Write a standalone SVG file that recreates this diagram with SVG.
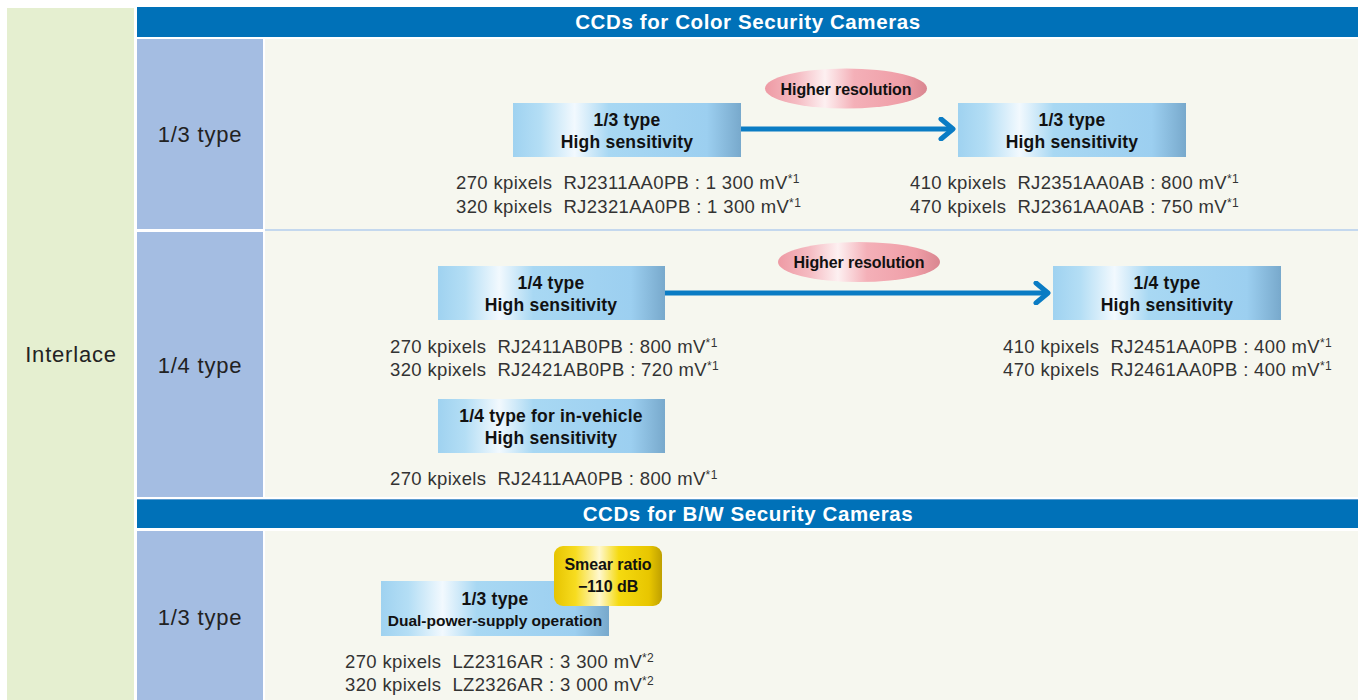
<svg xmlns="http://www.w3.org/2000/svg" width="1358" height="700" viewBox="0 0 1358 700">
<defs>
<linearGradient id="gBox" x1="0" y1="0" x2="1" y2="0">
<stop offset="0" stop-color="#9fd2f0"/>
<stop offset="0.12" stop-color="#b4def5"/>
<stop offset="0.27" stop-color="#f2f9fe"/>
<stop offset="0.42" stop-color="#a8d8f3"/>
<stop offset="0.85" stop-color="#9ccff0"/>
<stop offset="1" stop-color="#78a9cc"/>
</linearGradient>
<linearGradient id="gPink" x1="0" y1="0" x2="1" y2="0">
<stop offset="0" stop-color="#ee9aa4"/>
<stop offset="0.2" stop-color="#f5bcc3"/>
<stop offset="0.37" stop-color="#fdf0f1"/>
<stop offset="0.55" stop-color="#f4b0b8"/>
<stop offset="0.85" stop-color="#ef9ea7"/>
<stop offset="1" stop-color="#d98690"/>
</linearGradient>
<linearGradient id="gGold" x1="0" y1="0" x2="1" y2="0">
<stop offset="0" stop-color="#e6c400"/>
<stop offset="0.2" stop-color="#f7dc20"/>
<stop offset="0.42" stop-color="#fff8d0"/>
<stop offset="0.6" stop-color="#f5da10"/>
<stop offset="0.88" stop-color="#e8c600"/>
<stop offset="1" stop-color="#bfa000"/>
</linearGradient>
<marker id="chev" viewBox="0 0 20 24" refX="17" refY="12" markerWidth="20" markerHeight="24" markerUnits="userSpaceOnUse" orient="auto">
<path d="M5 2 L17 12 L5 22" fill="none" stroke="#0a7cc4" stroke-width="5" stroke-linecap="round" stroke-linejoin="round"/>
</marker>
</defs>
<style>
.bg{fill:#ffffff}
.interlace{fill:#e5efd0}
.hdr{fill:#0071b8}
.typecell{fill:#a4bde2}
.content{fill:#f6f7ef}
.hdrtxt{font-family:"Liberation Sans",Arial,sans-serif;font-weight:bold;font-size:20.5px;letter-spacing:0.6px;fill:#ffffff;text-anchor:middle}
.lbl{font-family:"Liberation Sans",Arial,sans-serif;font-size:22px;letter-spacing:0.8px;fill:#222222;text-anchor:middle}
.box{fill:url(#gBox)}
.btxt{font-family:"Liberation Sans",Arial,sans-serif;font-weight:bold;font-size:17.5px;letter-spacing:0.2px;fill:#111111;text-anchor:middle}
.btxt2{font-family:"Liberation Sans",Arial,sans-serif;font-weight:bold;font-size:15.5px;fill:#111111;text-anchor:middle}
.tag{font-family:"Liberation Sans",Arial,sans-serif;font-weight:bold;font-size:16px;letter-spacing:-0.1px;fill:#111111;text-anchor:middle}
.oval{fill:url(#gPink)}
.gold{fill:url(#gGold)}
.spec{font-family:"Liberation Sans",Arial,sans-serif;font-size:18.5px;letter-spacing:0.35px;fill:#333333;white-space:pre}
.sup{font-size:12px}
.conn{stroke:#0a7cc4;stroke-width:5;fill:none}
</style>
<rect class="bg" x="0" y="0" width="1358" height="700"/>

<g id="interlace">
<rect class="interlace" x="7" y="8" width="127" height="692"/>
<text class="lbl" x="71" y="362">Interlace</text>
</g>

<g id="header-color">
<rect class="hdr" x="137" y="7" width="1221" height="30"/>
<text class="hdrtxt" x="748" y="29">CCDs for Color Security Cameras</text>
</g>

<g id="row-13-color">
<rect class="typecell" x="137" y="39" width="126" height="190"/>
<rect class="content" x="265" y="39" width="1093" height="190"/>
<text class="lbl" x="200" y="142">1/3 type</text>
</g>

<rect x="265" y="229" width="1093" height="2" fill="#c4d8ee"/>

<g id="row-14-color">
<rect class="typecell" x="137" y="232" width="126" height="265"/>
<rect class="content" x="265" y="231" width="1093" height="266"/>
<text class="lbl" x="200" y="373">1/4 type</text>
</g>

<g id="header-bw">
<rect x="137" y="499" width="1221" height="2" fill="#5a9bd0"/>
<rect class="hdr" x="137" y="500" width="1221" height="28"/>
<text class="hdrtxt" x="748" y="521">CCDs for B/W Security Cameras</text>
</g>

<g id="row-13-bw">
<rect class="typecell" x="137" y="531" width="126" height="169"/>
<rect class="content" x="265" y="531" width="1093" height="169"/>
<text class="lbl" x="200" y="625">1/3 type</text>
</g>

<g id="connectors">
<line class="conn" x1="741" y1="129" x2="953" y2="129" marker-end="url(#chev)"/>
<line class="conn" x1="665" y1="293" x2="1048" y2="293" marker-end="url(#chev)"/>
</g>

<g id="label-res-1">
<ellipse class="oval" cx="846" cy="88.5" rx="81" ry="20"/>
<text class="tag" x="846" y="95">Higher resolution</text>
</g>

<g id="label-res-2">
<ellipse class="oval" cx="859" cy="262" rx="81" ry="20"/>
<text class="tag" x="859" y="268">Higher resolution</text>
</g>

<g id="node-13-hs-a">
<rect class="box" x="513" y="103" width="228" height="54"/>
<text class="btxt" x="627" y="126">1/3 type</text>
<text class="btxt" x="627" y="148">High sensitivity</text>
<text class="spec" x="456" y="189">270 kpixels  RJ2311AA0PB : 1 300 mV<tspan class="sup" dy="-6">*1</tspan></text>
<text class="spec" x="456" y="213">320 kpixels  RJ2321AA0PB : 1 300 mV<tspan class="sup" dy="-6">*1</tspan></text>
</g>

<g id="node-13-hs-b">
<rect class="box" x="958" y="103" width="228" height="54"/>
<text class="btxt" x="1072" y="126">1/3 type</text>
<text class="btxt" x="1072" y="148">High sensitivity</text>
<text class="spec" x="910" y="189">410 kpixels  RJ2351AA0AB : 800 mV<tspan class="sup" dy="-6">*1</tspan></text>
<text class="spec" x="910" y="213">470 kpixels  RJ2361AA0AB : 750 mV<tspan class="sup" dy="-6">*1</tspan></text>
</g>

<g id="node-14-hs-a">
<rect class="box" x="438" y="266" width="227" height="54"/>
<text class="btxt" x="551" y="289">1/4 type</text>
<text class="btxt" x="551" y="311">High sensitivity</text>
<text class="spec" x="390" y="353">270 kpixels  RJ2411AB0PB : 800 mV<tspan class="sup" dy="-6">*1</tspan></text>
<text class="spec" x="390" y="376">320 kpixels  RJ2421AB0PB : 720 mV<tspan class="sup" dy="-6">*1</tspan></text>
</g>

<g id="node-14-hs-b">
<rect class="box" x="1053" y="266" width="228" height="54"/>
<text class="btxt" x="1167" y="289">1/4 type</text>
<text class="btxt" x="1167" y="311">High sensitivity</text>
<text class="spec" x="1003" y="353">410 kpixels  RJ2451AA0PB : 400 mV<tspan class="sup" dy="-6">*1</tspan></text>
<text class="spec" x="1003" y="376">470 kpixels  RJ2461AA0PB : 400 mV<tspan class="sup" dy="-6">*1</tspan></text>
</g>

<g id="node-14-vehicle">
<rect class="box" x="438" y="399" width="227" height="54"/>
<text class="btxt" x="551" y="422">1/4 type for in-vehicle</text>
<text class="btxt" x="551" y="444">High sensitivity</text>
<text class="spec" x="390" y="485">270 kpixels  RJ2411AA0PB : 800 mV<tspan class="sup" dy="-6">*1</tspan></text>
</g>

<g id="node-13-bw">
<rect class="box" x="381" y="581" width="228" height="55"/>
<text class="btxt" x="495" y="605">1/3 type</text>
<text class="btxt2" x="495" y="626">Dual-power-supply operation</text>
<text class="spec" x="345" y="668">270 kpixels  LZ2316AR : 3 300 mV<tspan class="sup" dy="-6">*2</tspan></text>
<text class="spec" x="345" y="691">320 kpixels  LZ2326AR : 3 000 mV<tspan class="sup" dy="-6">*2</tspan></text>
</g>

<g id="label-smear">
<rect class="gold" x="554" y="546" width="108" height="60" rx="9"/>
<text class="tag" x="608" y="570">Smear ratio</text>
<text class="tag" x="608" y="592">−110 dB</text>
</g>
</svg>
